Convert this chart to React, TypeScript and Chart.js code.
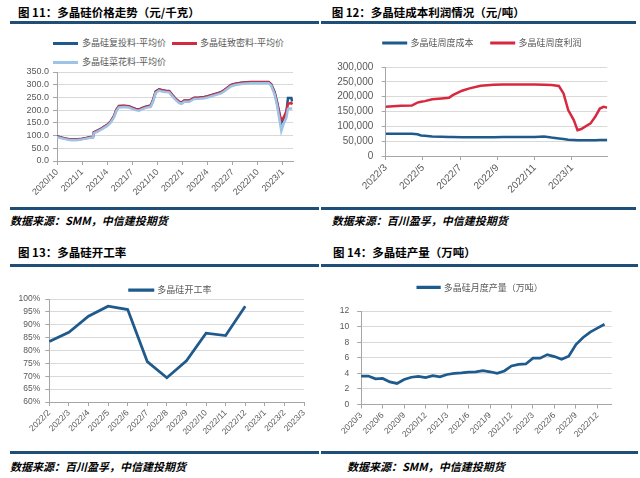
import React, { useEffect, useRef } from 'react';
import { Chart, registerables } from 'chart.js';

Chart.register(...registerables);

const FONT = '"Liberation Sans", "Noto Sans CJK SC", sans-serif';
const CJK = '"Noto Sans CJK SC", "Liberation Sans", sans-serif';
const BLUE = '#1F5A8C';
const RED = '#D6293F';
const LIGHT = '#9DC3E6';
const GRID = '#D9D9D9';
const AXIS = '#A6A6A6';
const LABEL = '#595959';
const RULE = '#1F4E79';

// ---------- 图11 多晶硅价格走势（元/千克） ----------
const priceSeriesNames = ['多晶硅复投料-平均价', '多晶硅致密料-平均价', '多晶硅菜花料-平均价'];
const priceTickLabels = ['2020/10', '2021/1', '2021/4', '2021/7', '2021/10', '2022/1', '2022/4', '2022/7', '2022/10', '2023/1'];
const priceTickMonths = [0, 3, 6, 9, 12, 15, 18, 21, 24, 27];
// months elapsed since 2020/10
const priceMonths = [0, 0.5, 1, 1.5, 2, 2.5, 3, 3.5, 4, 4.3, 4.4, 4.8, 5.2, 5.6, 6, 6.4, 6.8, 7.1, 7.4, 8, 8.6, 9, 9.4, 9.8, 10.2, 10.6, 11.2, 11.5, 11.8, 12.2, 12.6, 13, 13.4, 13.8, 14.2, 14.6, 14.9, 15.2, 15.8, 16.4, 17, 17.6, 18, 18.6, 19.2, 19.6, 20, 20.4, 20.8, 21.3, 22, 22.6, 23.2, 24, 24.8, 25.3, 25.6, 26, 26.3, 26.6, 26.8, 27.1, 27.4, 27.6, 28, 28.1];
const priceRecycled = [97, 93, 89, 86, 85, 86, 88, 91, 94, 95, 113, 119, 126, 134, 142, 155, 176, 202, 216, 217, 215, 210, 205, 203, 209, 214, 218, 242, 274, 282, 278, 276, 275, 259, 244, 233, 230, 238, 238, 249, 250, 252, 255, 261, 267, 271, 279, 289, 299, 304, 308, 310, 311, 311, 311, 311, 302, 272, 232, 185, 150, 168, 188, 248, 248, 234];
const priceDense = [96, 92, 88, 85, 84, 85, 87, 90, 93, 94, 112, 118, 125, 133, 141, 154, 175, 200, 215, 216, 214, 209, 204, 202, 208, 213, 217, 240, 272, 281, 277, 275, 274, 258, 243, 232, 229, 237, 237, 248, 249, 251, 254, 260, 266, 270, 278, 288, 298, 303, 307, 309, 310, 310, 310, 310, 300, 268, 226, 178, 160, 172, 195, 225, 228, 222];
const priceFlower = [94, 90, 86, 83, 82, 83, 85, 88, 91, 92, 109, 115, 122, 130, 138, 151, 171, 196, 211, 212, 210, 205, 200, 198, 204, 209, 213, 236, 268, 277, 273, 271, 270, 254, 239, 228, 225, 233, 233, 244, 245, 247, 250, 256, 262, 266, 274, 284, 294, 299, 303, 305, 306, 306, 306, 306, 296, 262, 218, 160, 118, 148, 170, 205, 206, 206];

// ---------- 图12 多晶硅成本利润情况（元/吨） ----------
const profitSeriesNames = ['多晶硅周度成本', '多晶硅周度利润'];
const profitTickLabels = ['2022/3', '2022/5', '2022/7', '2022/9', '2022/11', '2023/1'];
const profitTickMonths = [0, 2, 4, 6, 8, 10];
// months elapsed since 2022/3
const profitMonths = [0, 0.8, 1.4, 1.7, 1.9, 2.1, 2.5, 3.0, 3.4, 3.6, 4.1, 4.5, 5.1, 5.8, 6.3, 7.0, 8.0, 8.5, 8.9, 9.3, 9.55, 9.8, 10.1, 10.3, 10.5, 11.0, 11.25, 11.5, 11.7, 11.9];
const weeklyCost = [75000, 75000, 75000, 73000, 69000, 68000, 66000, 65000, 64000, 64000, 63000, 63000, 63000, 63000, 64000, 64000, 64000, 66000, 62000, 59000, 57000, 55000, 54000, 53000, 53000, 53000, 53500, 54000, 54000, 54000];
const weeklyProfit = [166000, 169000, 170000, 180000, 183000, 185000, 191000, 194000, 196000, 205000, 220000, 228000, 237000, 240000, 241000, 241000, 241000, 240000, 239000, 236000, 211000, 155000, 121000, 87000, 91000, 110000, 132000, 160000, 166000, 163000];

// ---------- 图13 多晶硅开工率 ----------
const rateName = '多晶硅开工率';
const rateMonths = ['2022/2', '2022/3', '2022/4', '2022/5', '2022/6', '2022/7', '2022/8', '2022/9', '2022/10', '2022/11', '2022/12', '2023/1', '2023/2', '2023/3'];
const operatingRate = [83.5, 87.1, 93.3, 97.2, 95.9, 75.7, 69.4, 76.0, 86.7, 85.8, 97.2, null, null, null];

// ---------- 图14 多晶硅产量（万吨） ----------
const outputName = '多晶硅月度产量（万吨）';
const outputMonths = ['2020/3', '2020/4', '2020/5', '2020/6', '2020/7', '2020/8', '2020/9', '2020/10', '2020/11', '2020/12', '2021/1', '2021/2', '2021/3', '2021/4', '2021/5', '2021/6', '2021/7', '2021/8', '2021/9', '2021/10', '2021/11', '2021/12', '2022/1', '2022/2', '2022/3', '2022/4', '2022/5', '2022/6', '2022/7', '2022/8', '2022/9', '2022/10', '2022/11', '2022/12', '2023/1', '2023/2'];
const monthlyOutput = [3.65, 3.65, 3.3, 3.35, 2.9, 2.7, 3.2, 3.5, 3.6, 3.45, 3.7, 3.55, 3.85, 4.0, 4.05, 4.15, 4.2, 4.35, 4.2, 4.0, 4.3, 4.95, 5.15, 5.2, 5.95, 5.95, 6.4, 6.15, 5.8, 6.2, 7.7, 8.6, 9.3, 9.8, 10.3];

// ---------- helpers ----------
const tickFont = (size: number) => ({ family: FONT, size });

function valueAxis(min: number, max: number, step: number, size: number, width: number, pad: number, fmt: (v: number) => string) {
  return {
    min,
    max,
    ticks: { stepSize: step, autoSkip: false, color: LABEL, font: tickFont(size), padding: pad, callback: (v: any) => fmt(Number(v)) },
    grid: { color: GRID, tickColor: AXIS, tickLength: 4, drawTicks: true },
    border: { display: true, color: AXIS, width: 1 },
    afterFit: (s: any) => {
      s.width = width;
    },
  };
}

function monthAxis(min: number, max: number, tickMonths: number[], tickLabels: string[], size: number, height: number) {
  return {
    type: 'linear',
    min,
    max,
    afterBuildTicks: (s: any) => {
      s.ticks = tickMonths.map((value) => ({ value }));
    },
    ticks: {
      autoSkip: false,
      minRotation: 45,
      maxRotation: 45,
      padding: 2,
      color: LABEL,
      font: tickFont(size),
      callback: (v: any) => tickLabels[tickMonths.indexOf(Number(v))] ?? '',
    },
    grid: { drawOnChartArea: false, drawTicks: true, tickLength: 4, tickColor: AXIS },
    border: { display: true, color: AXIS },
    afterFit: (s: any) => {
      s.height = height;
    },
  };
}

function categoryAxis(size: number, height: number, every: number, labels: string[]) {
  return {
    type: 'category',
    ticks: {
      autoSkip: false,
      minRotation: 45,
      maxRotation: 45,
      padding: 2,
      color: LABEL,
      font: tickFont(size),
      callback: (_v: any, i: number) => (i % every === 0 ? labels[i] : ''),
    },
    grid: {
      drawOnChartArea: false,
      drawTicks: true,
      tickLength: 4,
      tickColor: (ctx: any) => (ctx.index % every === 0 ? AXIS : 'rgba(0,0,0,0)'),
    },
    border: { display: true, color: AXIS },
    afterFit: (s: any) => {
      s.height = height;
    },
  };
}

// fixes the legend block height and shifts the legend row horizontally
const legendBox = (h: number, dx: number) => ({
  id: 'legendBox',
  beforeInit(chart: any) {
    const lg = chart.legend;
    if (!lg) return;
    const fit = lg.fit;
    lg.fit = function () {
      fit.call(this);
      this.height = h;
    };
  },
  afterLayout(chart: any) {
    const lg = chart.legend;
    if (!lg) return;
    lg.left += dx;
    lg.right += dx;
  },
});

const legendOpts = (boxWidth: number, padding: number) => ({
  display: true,
  position: 'top',
  align: 'center',
  labels: { boxWidth, boxHeight: 0.5, padding, color: LABEL, font: { family: CJK, size: 9 } },
});

const xy = (xs: number[], ys: (number | null)[]) => xs.map((x, i) => ({ x, y: ys[i] }));

// ---------- chart configs ----------
const priceConfig = () => ({
  type: 'line',
  data: {
    datasets: [
      { label: priceSeriesNames[0], data: xy(priceMonths, priceRecycled), borderColor: BLUE, backgroundColor: BLUE, order: 2 },
      { label: priceSeriesNames[1], data: xy(priceMonths, priceDense), borderColor: RED, backgroundColor: RED, order: 1 },
      { label: priceSeriesNames[2], data: xy(priceMonths, priceFlower), borderColor: LIGHT, backgroundColor: LIGHT, order: 0 },
    ],
  },
  options: {
    responsive: false,
    animation: false,
    layout: { padding: { left: 0, top: 12, right: 27, bottom: 0 } },
    elements: { point: { radius: 0 }, line: { borderWidth: 2.5, tension: 0 } },
    plugins: { legend: { display: false }, tooltip: { enabled: false } },
    scales: {
      x: monthAxis(0, 28.2, priceTickMonths, priceTickLabels, 9, 44),
      y: valueAxis(0, 350, 50, 9, 57, 4, (v) => v.toFixed(1)),
    },
  },
});

const profitConfig = () => ({
  type: 'line',
  data: {
    datasets: [
      { label: profitSeriesNames[0], data: xy(profitMonths, weeklyCost), borderColor: BLUE, backgroundColor: BLUE },
      { label: profitSeriesNames[1], data: xy(profitMonths, weeklyProfit), borderColor: RED, backgroundColor: RED },
    ],
  },
  options: {
    responsive: false,
    animation: false,
    layout: { padding: { left: 0, top: 0.5, right: 32.7, bottom: 0 } },
    elements: { point: { radius: 0 }, line: { borderWidth: 2.5, tension: 0 } },
    plugins: { legend: legendOpts(22.5, 18), tooltip: { enabled: false } },
    scales: {
      x: monthAxis(0, 11.9, profitTickMonths, profitTickLabels, 10, 44),
      y: valueAxis(0, 300000, 50000, 10, 60.7, 8.4, (v) => v.toLocaleString('en-US')),
    },
  },
  plugins: [legendBox(46.5, 16.3)],
});

const rateConfig = () => ({
  type: 'line',
  data: {
    labels: rateMonths,
    datasets: [{ label: rateName, data: operatingRate, borderColor: BLUE, backgroundColor: BLUE }],
  },
  options: {
    responsive: false,
    animation: false,
    layout: { padding: { left: 0, top: 5.5, right: 16, bottom: 0 } },
    elements: { point: { radius: 0 }, line: { borderWidth: 2.75, tension: 0 } },
    plugins: { legend: legendOpts(23.25, 10), tooltip: { enabled: false } },
    scales: {
      x: categoryAxis(8.5, 38, 1, rateMonths),
      y: valueAxis(60, 100, 5, 8.5, 39.3, 5, (v) => `${v}%`),
    },
  },
  plugins: [legendBox(23.5, 13.5)],
});

const outputConfig = () => ({
  type: 'line',
  data: {
    labels: outputMonths,
    datasets: [{ label: outputName, data: monthlyOutput, borderColor: BLUE, backgroundColor: BLUE }],
  },
  options: {
    responsive: false,
    animation: false,
    layout: { padding: { left: 0, top: 2.8, right: 28.3, bottom: 0 } },
    elements: { point: { radius: 0 }, line: { borderWidth: 2.75, tension: 0 } },
    plugins: { legend: legendOpts(21.5, 10), tooltip: { enabled: false } },
    scales: {
      x: categoryAxis(8.5, 40.5, 3, outputMonths),
      y: valueAxis(0, 12, 2, 8.5, 36.2, 8, (v) => `${v}`),
    },
  },
  plugins: [legendBox(38.2, 12)],
});

// ---------- components ----------
function ChartBox({ left, top, width, height, build }: any) {
  const ref = useRef<HTMLCanvasElement>(null);
  useEffect(() => {
    const chart = new Chart(ref.current as HTMLCanvasElement, build());
    return () => chart.destroy();
  }, []);
  return <canvas ref={ref} width={width} height={height} style={{ position: 'absolute', left, top, width, height }} />;
}

function Text({ x, cy, size, children, bold = false, italic = false, color = '#000' }: any) {
  return (
    <div
      style={{
        position: 'absolute',
        left: x,
        top: cy - size,
        height: size * 2,
        lineHeight: `${size * 2}px`,
        fontSize: size,
        fontWeight: bold ? 700 : 400,
        fontStyle: italic ? 'italic' : 'normal',
        color,
        fontFamily: CJK,
        whiteSpace: 'nowrap',
      }}
    >
      {children}
    </div>
  );
}

function Rule({ x, y, w }: any) {
  return <div style={{ position: 'absolute', left: x, top: y, width: w, height: 3, background: RULE }} />;
}

function LegendLine({ x, cy, color }: any) {
  return <div style={{ position: 'absolute', left: x, top: cy - 1.5, width: 25, height: 3, background: color }} />;
}

export default function App() {
  return (
    <div style={{ position: 'absolute', left: 0, top: 0, width: 640, height: 478, background: '#fff', overflow: 'hidden' }}>
      {/* 图11 */}
      <Text x={18} cy={12} size={11.5} bold>图 11：多晶硅价格走势（元/千克）</Text>
      <Rule x={10} y={21} w={309} />
      <LegendLine x={53} cy={43} color={BLUE} />
      <Text x={82} cy={43} size={9} color={LABEL}>{priceSeriesNames[0]}</Text>
      <LegendLine x={172} cy={43} color={RED} />
      <Text x={200} cy={43} size={9} color={LABEL}>{priceSeriesNames[1]}</Text>
      <LegendLine x={53} cy={62} color={LIGHT} />
      <Text x={82} cy={62} size={9} color={LABEL}>{priceSeriesNames[2]}</Text>
      <ChartBox left={0} top={60} width={320} height={145} build={priceConfig} />
      <Rule x={10} y={207} w={309} />
      <Text x={10} cy={219.5} size={11} bold italic>数据来源：SMM，中信建投期货</Text>

      {/* 图12 */}
      <Text x={331.7} cy={12} size={11.5} bold>图 12：多晶硅成本利润情况（元/吨）</Text>
      <Rule x={321} y={21} w={315} />
      <ChartBox left={325} top={20} width={315} height={180} build={profitConfig} />
      <Rule x={321} y={207} w={315} />
      <Text x={331.7} cy={219.5} size={11} bold italic>数据来源：百川盈孚，中信建投期货</Text>

      {/* 图13 */}
      <Text x={18} cy={252.7} size={11.5} bold>图 13：多晶硅开工率</Text>
      <Rule x={10} y={264} w={309} />
      <ChartBox left={10} top={270} width={310} height={170} build={rateConfig} />
      <Rule x={10} y={451} w={309} />
      <Text x={10} cy={465.5} size={11} bold italic>数据来源：百川盈孚，中信建投期货</Text>

      {/* 图14 */}
      <Text x={333} cy={252.7} size={11.5} bold>图 14：多晶硅产量（万吨）</Text>
      <Rule x={321} y={264} w={317} />
      <ChartBox left={325} top={270} width={315} height={175} build={outputConfig} />
      <Rule x={321} y={451} w={317} />
      <Text x={347} cy={466} size={11} bold italic>数据来源：SMM，中信建投期货</Text>
    </div>
  );
}
